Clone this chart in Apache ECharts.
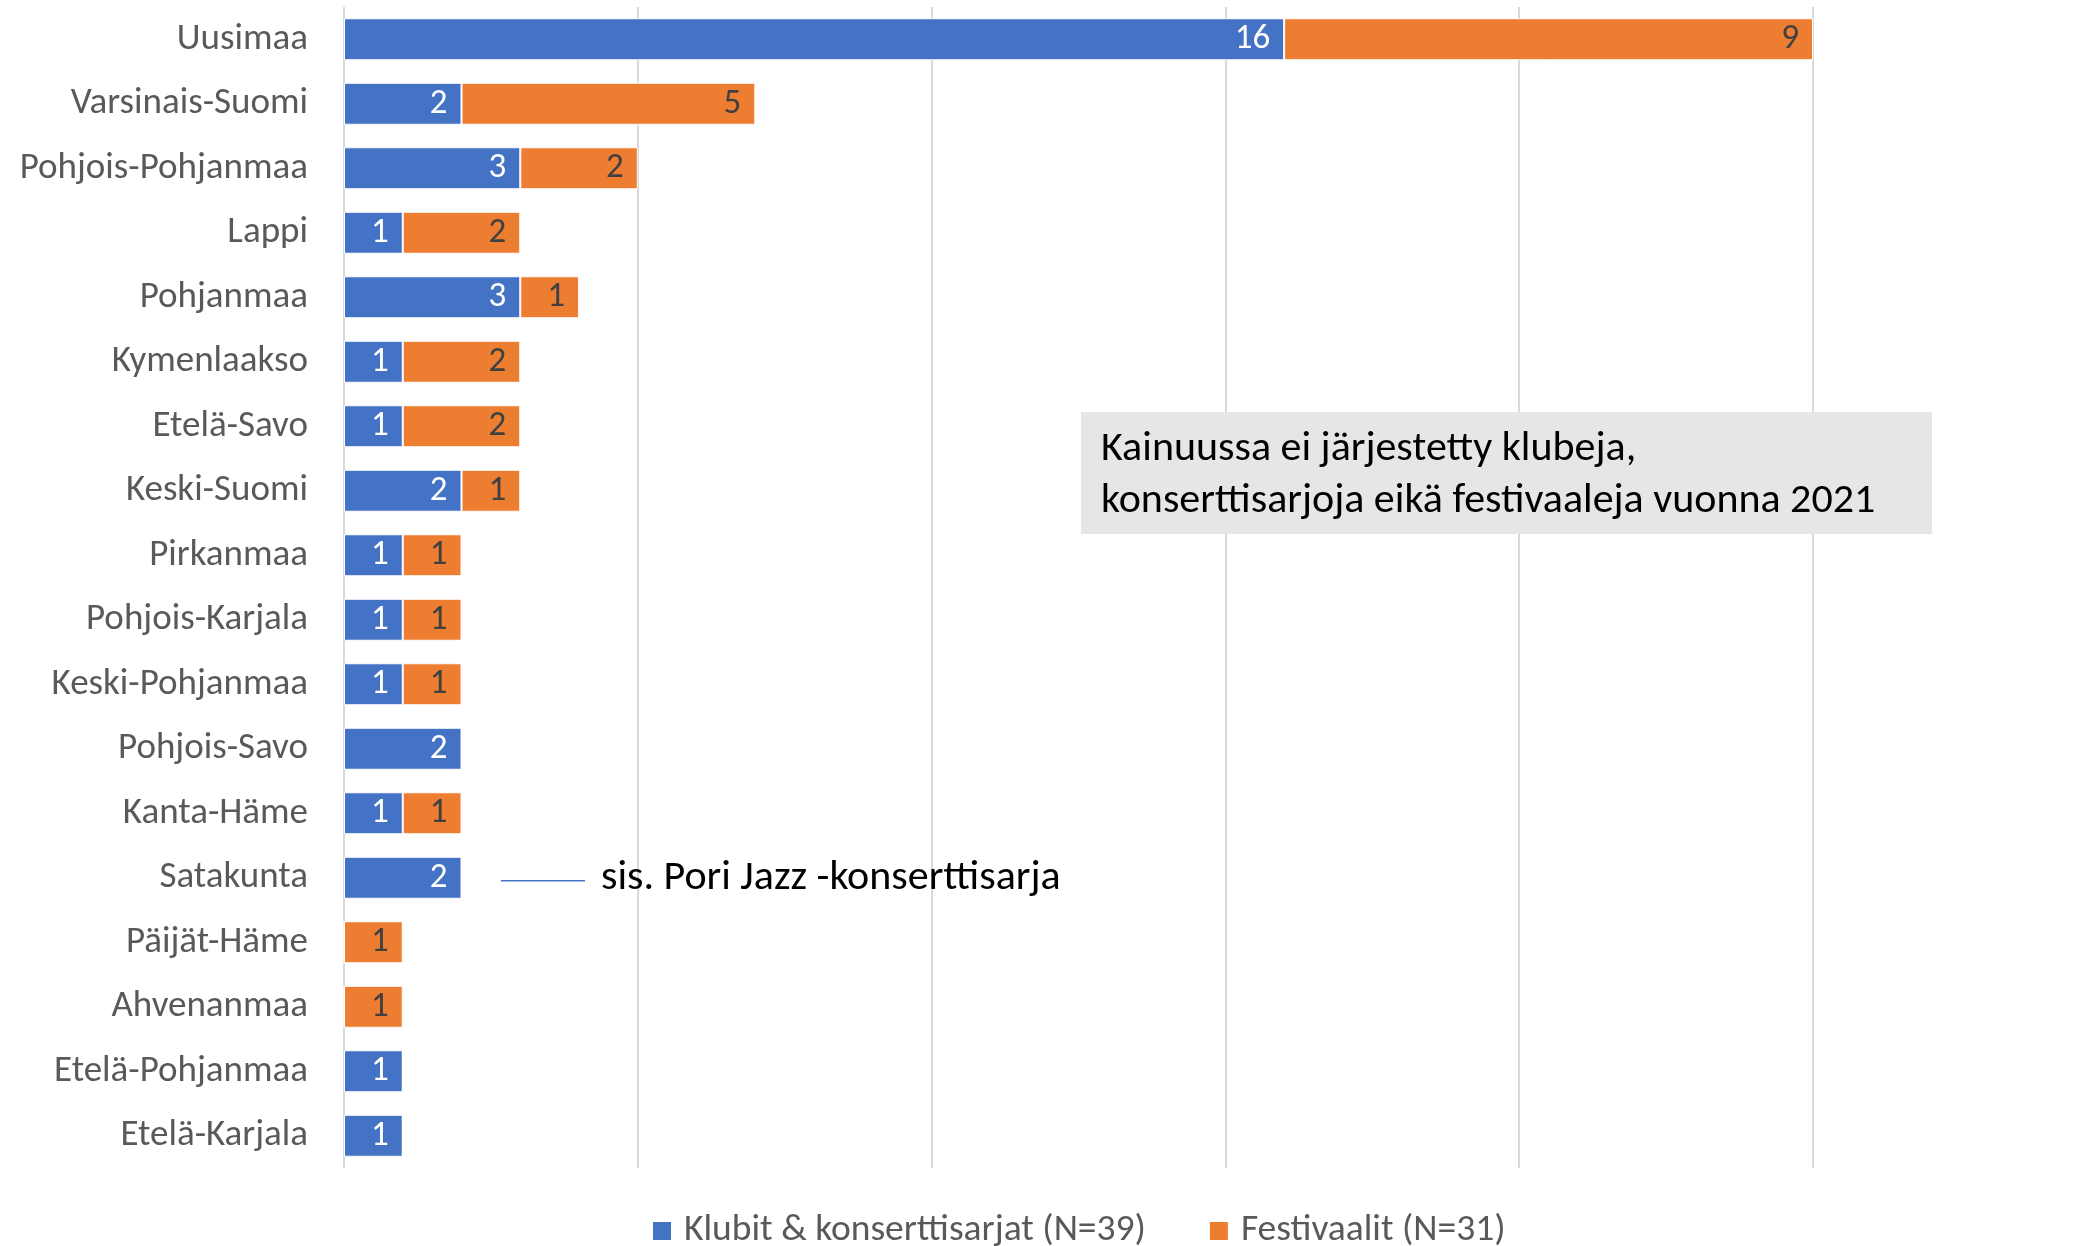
<!DOCTYPE html>
<html>
<head>
<meta charset="utf-8">
<script src="https://cdn.jsdelivr.net/npm/echarts@6/dist/echarts.min.js"></script>
<style>
    html, body { margin: 0; padding: 0; background: #fff; }
    #chart { width: 2100px; height: 1246px; }
</style>
</head>
<body>
<div id="chart"></div>
<script>
const regions = ['Uusimaa', 'Varsinais-Suomi', 'Pohjois-Pohjanmaa', 'Lappi', 'Pohjanmaa', 'Kymenlaakso',
    'Etelä-Savo', 'Keski-Suomi', 'Pirkanmaa', 'Pohjois-Karjala', 'Keski-Pohjanmaa', 'Pohjois-Savo',
    'Kanta-Häme', 'Satakunta', 'Päijät-Häme', 'Ahvenanmaa', 'Etelä-Pohjanmaa', 'Etelä-Karjala'];
const klubit = [16, 2, 3, 1, 3, 1, 1, 2, 1, 1, 1, 2, 1, 2, 0, 0, 1, 1];
const festivaalit = [9, 5, 2, 2, 1, 2, 2, 1, 1, 1, 1, 0, 1, 0, 1, 1, 0, 0];
const seriesNames = ['Klubit & konserttisarjat (N=39)', 'Festivaalit (N=31)'];
const noteText = 'Kainuussa ei järjestetty klubeja,\nkonserttisarjoja eikä festivaaleja vuonna 2021';
const poriText = 'sis. Pori Jazz -konserttisarja';

const FONT = "Carlito, 'Liberation Sans Narrow', 'Open Sans', sans-serif";

let chart = echarts.init(document.getElementById('chart'));

// nollat piiloon
const hideZero = p => p.value ? String(p.value) : '';

let option = {
    animation: false,
    textStyle: {fontFamily: FONT},
    grid: {left: 344, right: 287, top: 7, bottom: 78},
    legend: {
        top: 1207,
        left: 646,
        itemWidth: 20,
        itemHeight: 20,
        itemGap: 62,
        icon: 'rect',
        textStyle: {fontSize: 37.5, color: '#595959', fontFamily: FONT, padding: [0, 0, 0, 7]},
        data: seriesNames
    },
    xAxis: {
        type: 'value',
        min: 0,
        max: 25,
        interval: 5,
        axisLabel: {show: false},
        axisLine: {show: false},
        axisTick: {show: false},
        splitLine: {lineStyle: {color: '#d9d9d9', width: 2}}
    },
    yAxis: {
        type: 'category',
        inverse: true,
        data: regions,
        axisLine: {show: false},
        axisTick: {show: false},
        axisLabel: {fontSize: 37, color: '#595959', margin: 36, fontFamily: FONT}
    },
    series: [
        {
            name: seriesNames[0],
            type: 'bar',
            stack: 'all',
            barWidth: 42,
            data: klubit,
            itemStyle: {color: '#4472c4', borderColor: '#fff', borderWidth: 1},
            label: {
                show: true, position: 'insideRight', distance: 14,
                color: '#fff', fontSize: 35, fontFamily: FONT, formatter: hideZero
            }
        },
        {
            name: seriesNames[1],
            type: 'bar',
            stack: 'all',
            barWidth: 42,
            data: festivaalit,
            itemStyle: {color: '#ed7d31', borderColor: '#fff', borderWidth: 1},
            label: {
                show: true, position: 'insideRight', distance: 14,
                color: '#404040', fontSize: 35, fontFamily: FONT, formatter: hideZero
            }
        }
    ]
};
chart.setOption(option);

// huomautukset
let sat = chart.convertToPixel({gridIndex: 0}, [0, 'Satakunta']);
chart.setOption({
    graphic: [
        {
            type: 'rect',
            shape: {x: 1081, y: 412, width: 851, height: 122},
            style: {fill: '#e7e6e6'}
        },
        {
            type: 'text',
            x: 1101, y: 475,
            style: {
                text: noteText, fontSize: 42, lineHeight: 52, fill: '#000',
                fontFamily: FONT, verticalAlign: 'middle'
            }
        },
        {
            type: 'line',
            shape: {x1: 501, y1: sat[1] + 3, x2: 585, y2: sat[1] + 3},
            style: {stroke: '#4472c4', lineWidth: 1.5}
        },
        {
            type: 'text',
            x: 601, y: sat[1] + 1,
            style: {
                text: poriText, fontSize: 42, fill: '#000',
                fontFamily: FONT, verticalAlign: 'middle'
            }
        }
    ]
});

window.addEventListener('resize', function () {
    chart.resize();
});
</script>
</body>
</html>
